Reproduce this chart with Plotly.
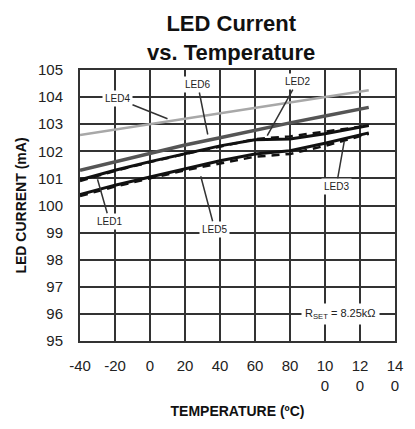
import plotly.graph_objects as go

temps = [-40, -20, 0, 20, 40, 60, 80, 100, 125]
led4 = [102.6, 102.8, 103.0, 103.2, 103.4, 103.6, 103.8, 104.0, 104.25]
led6 = [101.3, 101.62, 101.93, 102.23, 102.5, 102.78, 103.05, 103.3, 103.62]
led1 = [100.95, 101.3, 101.62, 101.92, 102.2, 102.43, 102.45, 102.65, 102.95]
led2 = [100.9, 101.28, 101.6, 101.9, 102.17, 102.45, 102.55, 102.72, 102.95]
led3 = [100.4, 100.75, 101.05, 101.35, 101.65, 101.9, 102.02, 102.3, 102.68]
led5 = [100.35, 100.7, 101.0, 101.3, 101.55, 101.8, 101.9, 102.2, 102.65]

x_ticks = [-40, -20, 0, 20, 40, 60, 80, 100, 120, 140]
x_ticktext = ["-40", "-20", "0", "20", "40", "60", "80", "10<br>0", "12<br>0", "14<br>0"]
y_ticks = [95, 96, 97, 98, 99, 100, 101, 102, 103, 104, 105]

fig = go.Figure()
styles = [
    ("LED4", led4, "#a8a8a8", 2.5, "solid"),
    ("LED6", led6, "#555555", 3.5, "solid"),
    ("LED5", led5, "#111111", 2.5, "8px,6px"),
    ("LED3", led3, "#111111", 3, "solid"),
    ("LED2", led2, "#111111", 2.5, "8px,6px"),
    ("LED1", led1, "#111111", 3, "solid"),
]
for name, vals, col, w, dash in styles:
    fig.add_trace(go.Scatter(x=temps, y=vals, mode="lines", name=name,
                             line=dict(color=col, width=w, dash=dash)))

font_lbl = dict(family="Liberation Sans, Arial", size=10, color="#222")
anns = [
    # text, tip x, tip y, ax, ay (pixel offsets of label from tip)
    ("LED4", 10, 103.2, -50, -20),
    ("LED6", 33, 102.62, -10, -50),
    ("LED2", 67, 102.58, 30, -54),
    ("LED3", 111, 102.37, -8, 45),
    ("LED1", -30, 100.97, 12, 42),
    ("LED5", 29, 101.08, 14, 53),
]
for t, x, y, ax, ay in anns:
    fig.add_annotation(x=x, y=y, ax=ax, ay=ay, text=t, showarrow=True,
                       arrowhead=0, arrowwidth=1.5, arrowcolor="#333",
                       font=font_lbl, bgcolor="white", borderpad=2)
fig.add_annotation(x=109, y=96, text="R<sub>SET</sub> = 8.25kΩ", showarrow=False,
                   font=dict(family="Liberation Sans, Arial", size=11, color="#222"),
                   bgcolor="white", borderpad=3)

fig.add_annotation(xref="paper", yref="paper", x=0.48, y=1, xanchor="center",
                   yanchor="bottom", yshift=3, showarrow=False,
                   text="<b>LED Current<br>vs. Temperature</b>",
                   font=dict(family="Liberation Sans, Arial", size=22, color="#111"))

fig.update_layout(
    width=415, height=429,
    margin=dict(l=80, r=13, t=70, b=86),
    paper_bgcolor="white", plot_bgcolor="white",
    showlegend=False,
    font=dict(family="Liberation Sans, Arial", size=15, color="#222"),
)
fig.update_xaxes(range=[-40, 140], tickvals=x_ticks, ticktext=x_ticktext,
                 showgrid=True, gridcolor="#333", gridwidth=1.7,
                 showline=True, linecolor="#333", linewidth=2, mirror=True,
                 zeroline=False, ticks="", ticklabelstandoff=10,
                 title=dict(text="<b>TEMPERATURE (ºC)</b>", font=dict(size=14, color="#111"),
                            standoff=14))
fig.update_yaxes(range=[95, 105], tickvals=y_ticks,
                 showgrid=True, gridcolor="#333", gridwidth=1.7,
                 showline=True, linecolor="#333", linewidth=2, mirror=True,
                 zeroline=False, ticks="", ticklabelstandoff=12,
                 title=dict(text="<b>LED CURRENT (mA)</b>", font=dict(size=14, color="#111"),
                            standoff=8))

fig.write_html("out.html")
